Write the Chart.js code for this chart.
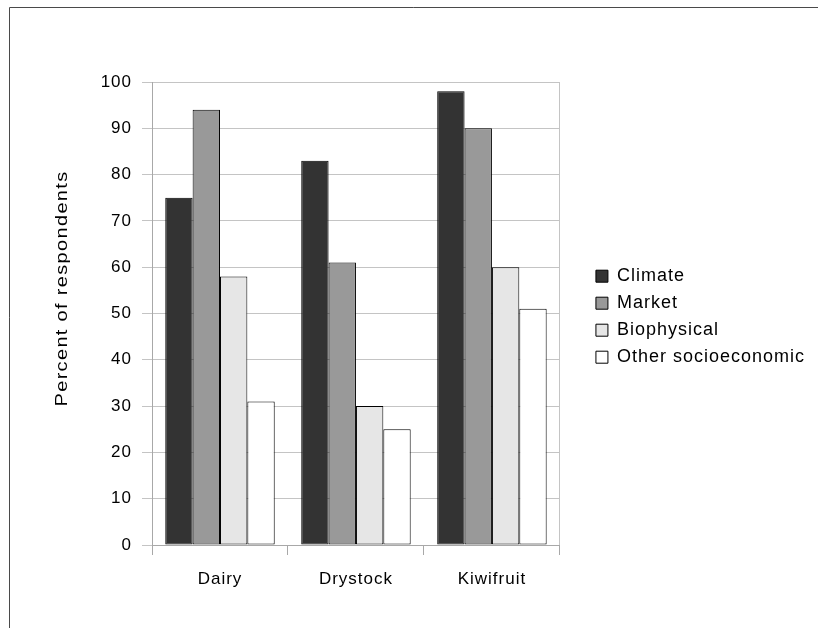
<!DOCTYPE html>
<html>
<head>
<meta charset="utf-8">
<script src="https://cdn.jsdelivr.net/npm/chart.js@4/dist/chart.umd.min.js"></script>
<style>
  html, body { margin: 0; padding: 0; background: #fff; }
  #wrap { width: 818px; height: 628px; position: relative; }
</style>
</head>
<body>
<div id="wrap"><canvas id="c" width="818" height="628"></canvas></div>
<script>
// Share of respondents naming each driver, by farm type
const categories = ['Dairy', 'Drystock', 'Kiwifruit'];
const climate = [75, 83, 98];
const market = [94, 61, 90];
const biophysical = [58, 30, 60];
const otherSocioeconomic = [31, 25, 51];
const yTickValues = [0, 10, 20, 30, 40, 50, 60, 70, 80, 90, 100];
const yTitle = 'Percent of respondents';

const FONT = "'Liberation Sans', Arial, sans-serif";
const axisGrey = '#a8a8a8';
const gridGrey = '#c4c4c4';
const textSpacing = '1px';

// Frame line, wide letter spacing and the rotated axis title
const decorations = {
  id: 'decorations',
  beforeUpdate(chart) { chart.ctx.letterSpacing = textSpacing; },
  beforeDraw(chart) {
    const { ctx, width, height } = chart;
    ctx.letterSpacing = textSpacing;
    ctx.save();
    ctx.fillStyle = '#fff';
    ctx.fillRect(0, 0, width, height);
    ctx.strokeStyle = '#4a4a4a';
    ctx.lineWidth = 1;
    ctx.beginPath();
    ctx.moveTo(9.5, height);
    ctx.lineTo(9.5, 7.5);
    ctx.lineTo(width, 7.5);
    ctx.stroke();
    ctx.restore();
  },
  afterDraw(chart) {
    const { ctx, chartArea } = chart;
    ctx.save();
    ctx.fillStyle = '#000';
    ctx.font = '17px ' + FONT;
    ctx.letterSpacing = '1.1px';
    ctx.textAlign = 'center';
    ctx.textBaseline = 'middle';
    ctx.translate(chartArea.left - 90, (chartArea.top + chartArea.bottom) / 2 - 25);
    ctx.rotate(-Math.PI / 2);
    ctx.scale(1.18, 1);
    ctx.fillText(yTitle, 0, 0);
    ctx.restore();
  }
};

const barStyle = { borderColor: '#000', borderWidth: 1, borderSkipped: false,
                   categoryPercentage: 0.805, barPercentage: 1.0 };

new Chart(document.getElementById('c'), {
  type: 'bar',
  data: {
    labels: categories,
    datasets: [
      { label: 'Climate', data: climate, backgroundColor: '#333333', ...barStyle },
      { label: 'Market', data: market, backgroundColor: '#999999', ...barStyle },
      { label: 'Biophysical', data: biophysical, backgroundColor: '#e6e6e6', ...barStyle },
      { label: 'Other socioeconomic', data: otherSocioeconomic, backgroundColor: '#ffffff', ...barStyle }
    ]
  },
  options: {
    responsive: false,
    animation: false,
    devicePixelRatio: 1,
    layout: { padding: { left: 0, top: 82, right: 3, bottom: 0 } },
    plugins: {
      legend: {
        position: 'right',
        fullSize: false,
        maxWidth: 400,
        title: { display: true, text: '', font: { size: 2 }, padding: 2 },
        labels: {
          boxWidth: 12, boxHeight: 12, padding: 9,
          color: '#000', font: { family: FONT, size: 18 }
        }
      },
      tooltip: { enabled: false }
    },
    scales: {
      x: {
        grid: {
          offset: true,
          color: (c) => c.type === 'tick' ? 'rgba(0,0,0,0)' : gridGrey,
          tickColor: axisGrey,
          tickLength: 10
        },
        border: { display: true, color: axisGrey },
        ticks: { color: '#000', font: { family: FONT, size: 17 }, padding: 14 },
        afterFit: (s) => { s.height = 83; }
      },
      y: {
        min: 0, max: 100,
        afterBuildTicks: (s) => { s.ticks = yTickValues.map(v => ({ value: v })); },
        grid: { color: gridGrey, tickColor: gridGrey, tickLength: 10 },
        border: { display: true, color: axisGrey },
        ticks: { color: '#000', font: { family: FONT, size: 17 }, padding: 10 },
        afterFit: (s) => { s.width = 152; }
      },
      gap: {
        type: 'linear',
        position: 'right',
        grid: { display: false },
        border: { display: false },
        ticks: { display: false },
        afterFit: (s) => { s.width = 27; }
      }
    }
  },
  plugins: [decorations]
});
</script>
</body>
</html>
